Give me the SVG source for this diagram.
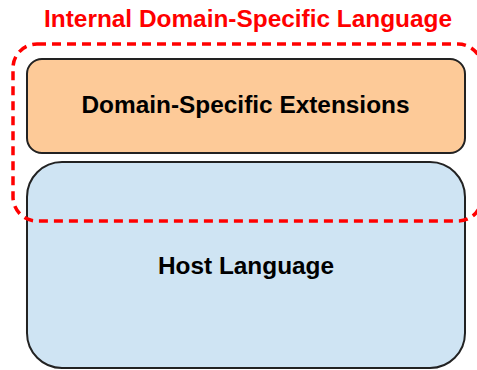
<svg xmlns="http://www.w3.org/2000/svg" width="477" height="370" viewBox="0 0 477 370">
  <style>
    .box { stroke: #222; stroke-width: 2; }
    .label { font-family: "Liberation Sans", Arial, sans-serif; font-weight: bold; font-size: 24.4px; fill: #000; text-anchor: middle; }
    .title { font-family: "Liberation Sans", Arial, sans-serif; font-weight: bold; font-size: 24.4px; fill: #ff0000; text-anchor: middle; }
    .boundary { fill: none; stroke: #ff0000; stroke-width: 3.5; stroke-dasharray: 9 6; }
  </style>
  <rect width="477" height="370" fill="#ffffff"/>

  <g id="host-language">
    <rect class="box" x="27" y="162" width="438" height="206" rx="35" ry="35" fill="#cfe4f3"/>
    <text class="label" x="246" y="274">Host Language</text>
  </g>

  <g id="domain-specific-extensions">
    <rect class="box" x="27" y="59" width="438" height="94" rx="15" ry="15" fill="#fdca98"/>
    <text class="label" x="245.5" y="113">Domain-Specific Extensions</text>
  </g>

  <!-- dashed boundary runs slightly past the right edge of the canvas -->
  <g id="internal-dsl">
    <rect class="boundary" x="13" y="44" width="469" height="177" rx="24" ry="24"/>
    <text class="title" x="248" y="27">Internal Domain-Specific Language</text>
  </g>
</svg>
